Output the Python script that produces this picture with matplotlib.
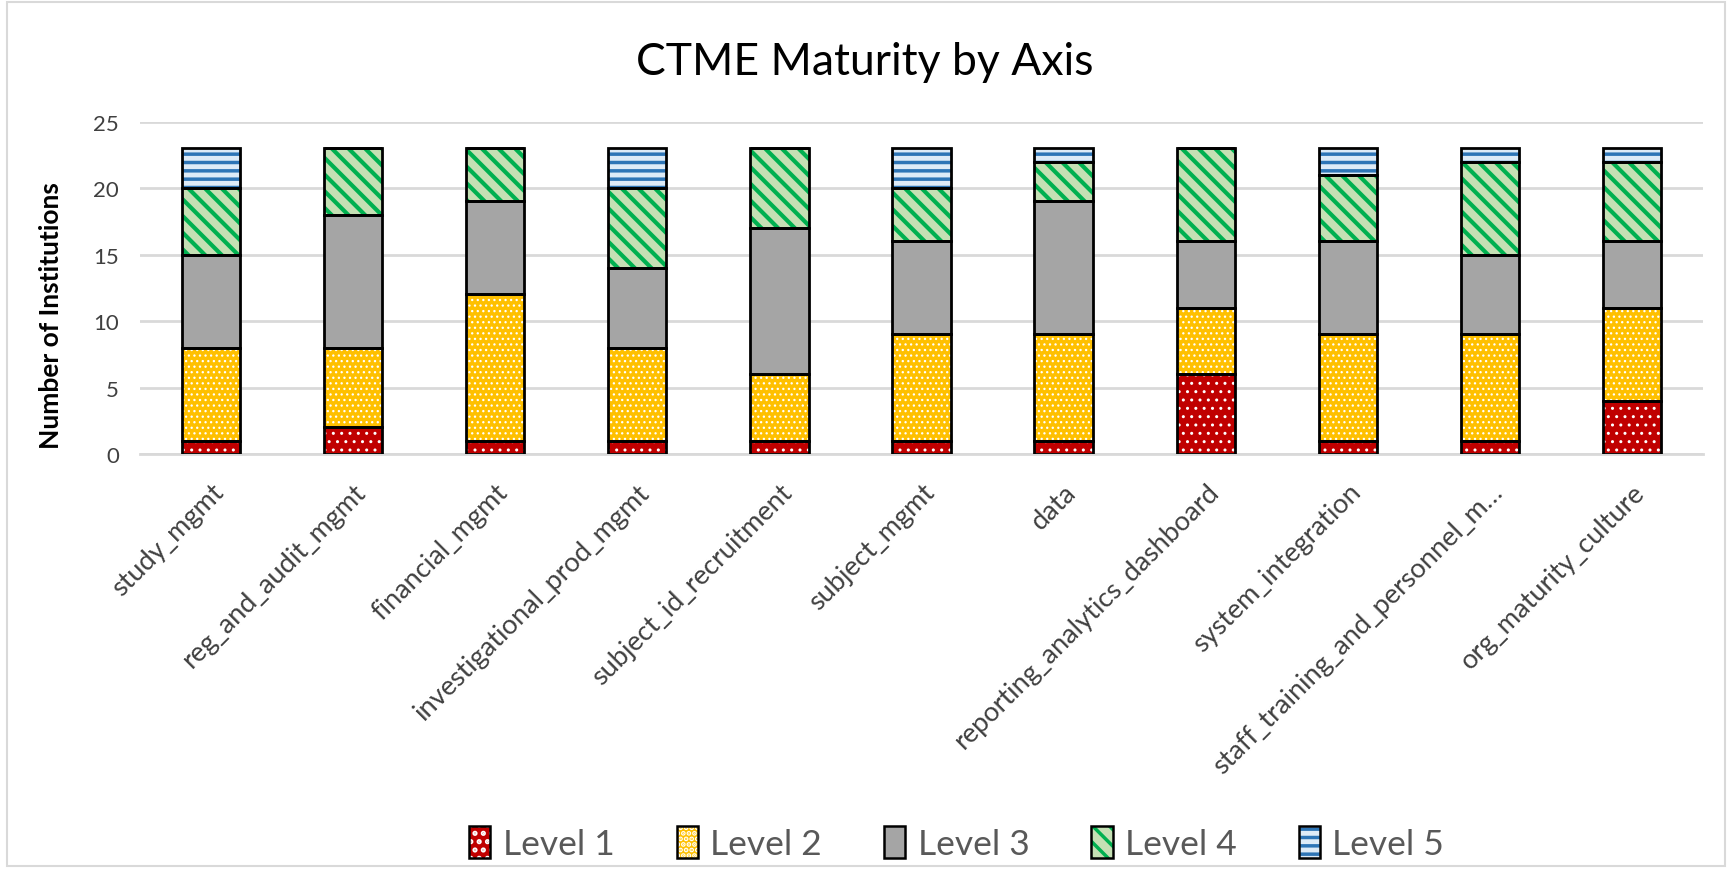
import matplotlib.pyplot as plt
import numpy as np
from matplotlib.patches import Patch, Rectangle

plt.rcParams['font.family'] = ['Lato', 'DejaVu Sans']

# data
axes_names = ["study_mgmt", "reg_and_audit_mgmt", "financial_mgmt",
              "investigational_prod_mgmt", "subject_id_recruitment",
              "subject_mgmt", "data", "reporting_analytics_dashboard",
              "system_integration", "staff_training_and_personnel_m\u2026",
              "org_maturity_culture"]
level_names = ["Level 1", "Level 2", "Level 3", "Level 4", "Level 5"]
level1 = [1, 2, 1, 1, 1, 1, 1, 6, 1, 1, 4]
level2 = [7, 6, 11, 7, 5, 8, 8, 5, 8, 8, 7]
level3 = [7, 10, 7, 6, 11, 7, 10, 5, 7, 6, 5]
level4 = [5, 5, 4, 6, 6, 4, 3, 7, 5, 7, 6]
level5 = [3, 0, 0, 3, 0, 3, 1, 0, 2, 1, 1]

# fill, hatch colour, hatch pattern, hatch linewidth
styles = [
    ("#C00000", "white", "..", 1.0),
    ("#FFC000", "white", "...", 0.9),
    ("#A5A5A5", "#A5A5A5", "", 1.0),
    ("#C5E0B4", "#00B050", "\\\\", 3.0),
    ("#DEEBF7", "#2E75B6", "--", 2.5),
]

fig = plt.figure(figsize=(17.3, 8.7), dpi=100)
ax = fig.add_axes([0.0809, 0.477, 0.9035, 0.382])

x = np.arange(len(axes_names))
width = 0.41
bottom = np.zeros(len(axes_names))
handles = []
for vals, (fc, hc, hatch, hlw) in zip([level1, level2, level3, level4, level5], styles):
    plt.rcParams['hatch.linewidth'] = hlw
    ax.bar(x, vals, width, bottom=bottom, color=fc, edgecolor=hc,
           hatch=hatch, linewidth=0, zorder=2)
    ax.bar(x, vals, width, bottom=bottom, fill=False, edgecolor="black",
           linewidth=2, zorder=3)
    handles.append((Patch(facecolor=fc, edgecolor=hc, hatch=hatch, linewidth=0),
                    Patch(fill=False, edgecolor="black", linewidth=1.8)))
    bottom += np.array(vals)

ax.set_xlim(-0.5, len(axes_names) - 0.5)
ax.set_ylim(0, 25)
ax.set_yticks(range(0, 26, 5))
ax.yaxis.grid(True, color="#D9D9D9", linewidth=2, zorder=0)
ax.set_axisbelow(True)
for s in ["top", "right", "left"]:
    ax.spines[s].set_visible(False)
ax.spines["bottom"].set_color("#D9D9D9")
ax.spines["bottom"].set_linewidth(2)
ax.tick_params(length=0, labelcolor="#404040")
ax.tick_params(axis="y", pad=15, labelsize=16)
ax.tick_params(axis="x", pad=18, labelsize=19.5)
ax.set_xticks(x)
ax.set_xticklabels(axes_names, rotation=45, ha="right", rotation_mode="anchor")
ax.set_ylabel("Number of Institutions", fontsize=19, fontweight="bold")
ax.yaxis.set_label_coords(-0.049, 0.42)

fig.suptitle("CTME Maturity by Axis", x=0.5, y=0.952, fontsize=32, color="black")

fig.legend(handles, level_names, loc="center", bbox_to_anchor=(0.553, 0.03),
           ncol=5, frameon=False, fontsize=25.5, labelcolor="#595959",
           handlelength=0.6, handleheight=1.0, handletextpad=0.35, columnspacing=1.75)

fig.patches.append(Rectangle((0.004, 0.004), 0.993, 0.992, transform=fig.transFigure,
                             fill=False, edgecolor="#D9D9D9", linewidth=1.5))

fig.savefig("out.png", dpi=100)
